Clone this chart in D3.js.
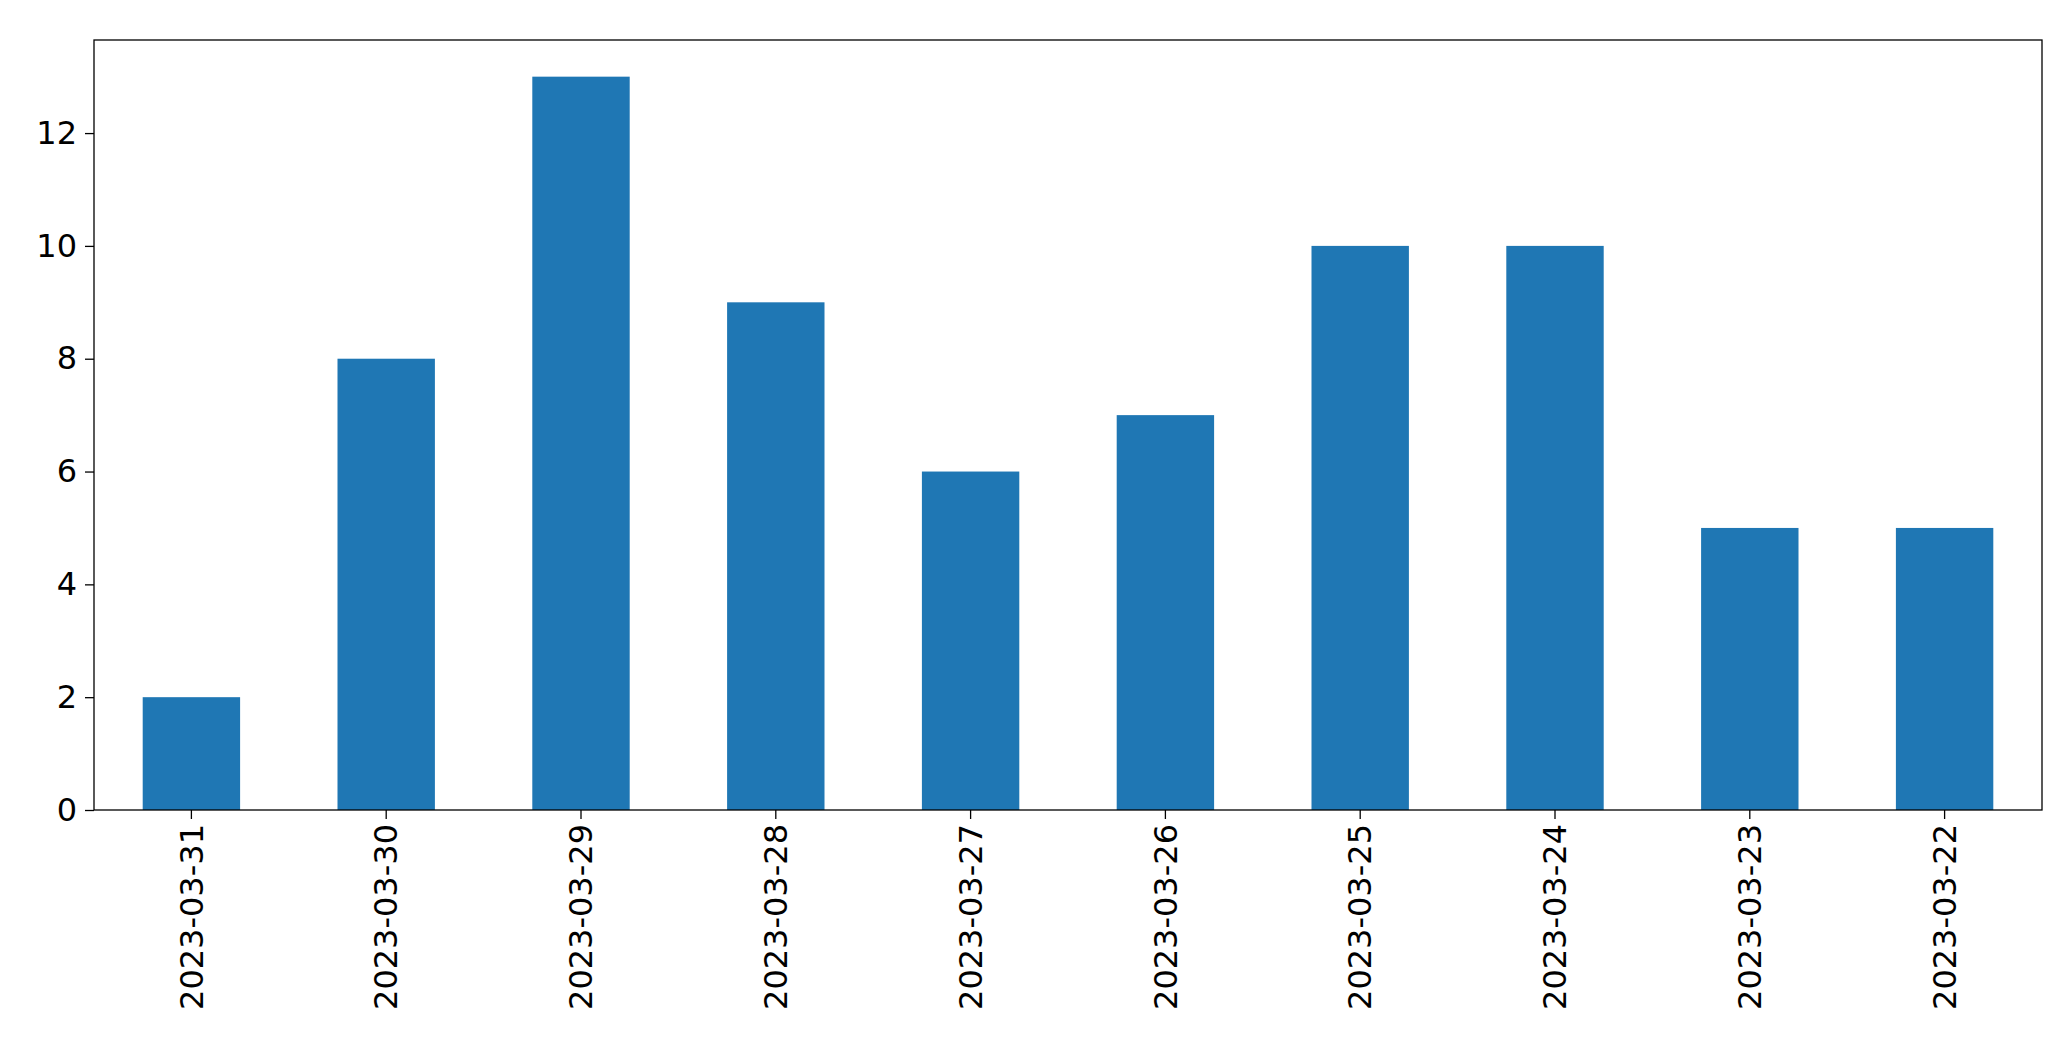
<!DOCTYPE html>
<html><head><meta charset="utf-8">
<script src="https://cdn.jsdelivr.net/npm/d3@7"></script>
<style>body{margin:0;background:#fff}svg{display:block}</style>
</head><body><svg></svg>
<script>
const dates = ["2023-03-31","2023-03-30","2023-03-29","2023-03-28","2023-03-27","2023-03-26","2023-03-25","2023-03-24","2023-03-23","2023-03-22"];
const counts = [2, 8, 13, 9, 6, 7, 10, 10, 5, 5];
const yTicks = [0, 2, 4, 6, 8, 10, 12];

const width = 2071, height = 1061;
const margin = { top: 40, right: 29, bottom: 251, left: 94 };

const svg = d3.select("svg").attr("width", width).attr("height", height);
const g = svg.append("g").attr("transform", "translate(" + margin.left + "," + margin.top + ")");
const w = width - margin.left - margin.right, h = height - margin.top - margin.bottom;

const x = d3.scaleBand().domain(dates).range([0, w]).paddingInner(0.5).paddingOuter(0.25);
const y = d3.scaleLinear().domain([0, 13 * 1.05]).range([h, 0]);

g.selectAll("rect.bar").data(dates).enter().append("rect")
  .attr("class", "bar")
  .attr("x", d => x(d))
  .attr("y", (d, i) => y(counts[i]))
  .attr("width", x.bandwidth())
  .attr("height", (d, i) => h - y(counts[i]))
  .attr("fill", "#1f77b4");

const font = "'DejaVu Sans', sans-serif";
const xAxis = g.append("g").attr("transform", "translate(0," + h + ")")
  .call(d3.axisBottom(x).tickSize(9).tickPadding(6));
xAxis.selectAll("text")
  .attr("transform", "rotate(-90)").attr("text-anchor", "end")
  .attr("x", -14).attr("y", 0).attr("dy", "0.35em")
  .style("font-size", "32px").style("font-family", font).attr("fill", "#000");

const yAxis = g.append("g").call(d3.axisLeft(y).tickValues(yTicks).tickSize(9).tickPadding(8));
yAxis.selectAll("text").style("font-size", "32px").style("font-family", font).attr("fill", "#000");

[xAxis, yAxis].forEach(a => {
  a.select(".domain").remove();
  a.selectAll("line").attr("stroke", "#000").attr("stroke-width", 1.3);
});

g.append("rect").attr("width", w).attr("height", h)
  .attr("fill", "none").attr("stroke", "#000").attr("stroke-width", 1.3);
</script>
</body></html>
